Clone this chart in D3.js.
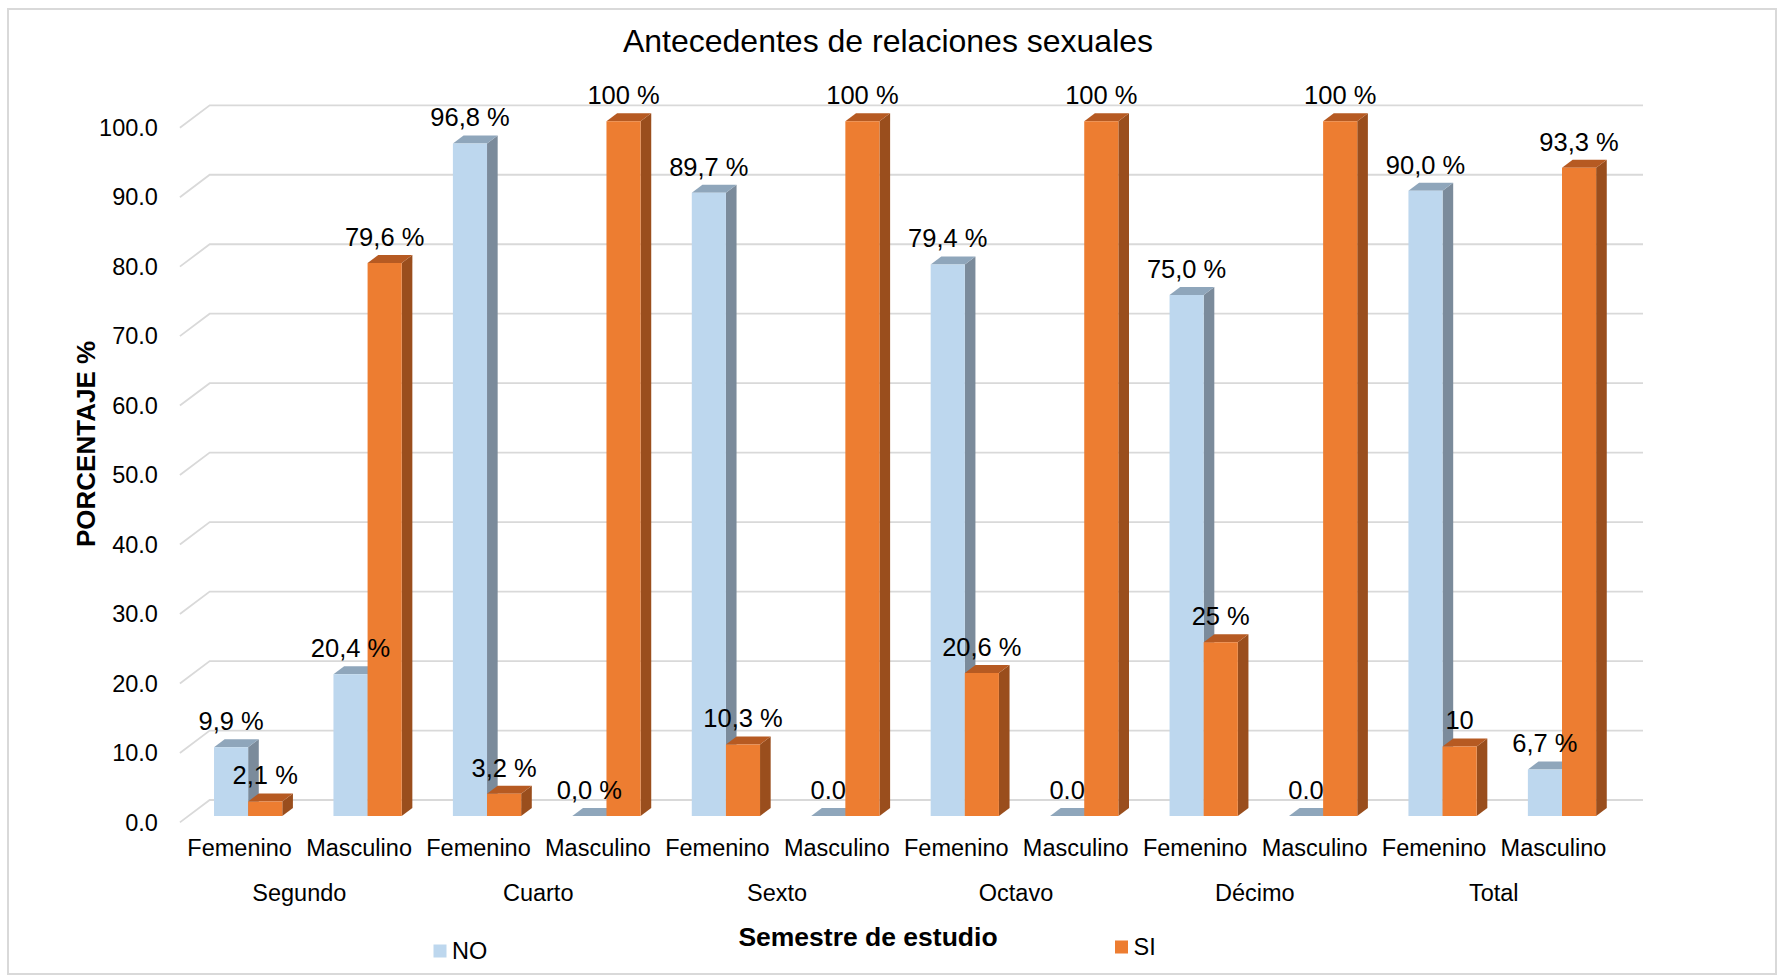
<!DOCTYPE html>
<html>
<head>
<meta charset="utf-8">
<script src="https://cdn.jsdelivr.net/npm/d3@7"></script>
<style>
  html, body { margin: 0; padding: 0; background: #ffffff; }
  svg { display: block; }
  text { font-family: "Liberation Sans", Arial, sans-serif; fill: #000; }
</style>
</head>
<body>
<div id="chart"></div>
<script>
// ---------------- data ----------------
const chartTitle = "Antecedentes de relaciones sexuales";
const yAxisTitle = "PORCENTAJE %";
const xAxisTitle = "Semestre de estudio";
const semestres = ["Segundo", "Cuarto", "Sexto", "Octavo", "Décimo", "Total"];
const sexos = ["Femenino", "Masculino"];
const seriesNames = ["NO", "SI"];
const valuesNO = [9.9, 20.4, 96.8, 0, 89.7, 0, 79.4, 0, 75.0, 0, 90.0, 6.7];
const valuesSI = [2.1, 79.6, 3.2, 100, 10.3, 100, 20.6, 100, 25, 100, 10, 93.3];
const labelsNO = ["9,9 %", "20,4 %", "96,8 %", "0,0 %", "89,7 %", "0.0", "79,4 %", "0.0", "75,0 %", "0.0", "90,0 %", "6,7 %"];
const labelsSI = ["2,1 %", "79,6 %", "3,2 %", "100 %", "10,3 %", "100 %", "20,6 %", "100 %", "25 %", "100 %", "10", "93,3 %"];
const yTicks = [0, 10, 20, 30, 40, 50, 60, 70, 80, 90, 100];

// ---------------- layout ----------------
const W = 1784, H = 978;
const FONT = 23.5;
const LABEL_FONT = 25.5;
const colors = {
  NO: { front: "#BDD7EE", top: "#8FA6BB", side: "#7B8B9B" },
  SI: { front: "#ED7D31", top: "#B65A22", side: "#9A4E1D" }
};
const DX = -29.8, DY = 22.4;       // full floor depth vector (towards viewer)
const fFront = 0.714, fBack = 0.357; // bar depth position

const svg = d3.select("#chart").append("svg").attr("width", W).attr("height", H);

// border
svg.append("rect").attr("x", 8).attr("y", 9).attr("width", 1768).attr("height", 965)
  .attr("fill", "#fff").attr("stroke", "#D9D9D9").attr("stroke-width", 2);

// categories (12 = 6 semesters x 2 sexes)
const cats = [];
semestres.forEach((s, gi) => sexos.forEach((sx, si) => cats.push({ sem: s, sexo: sx, gi, idx: gi * 2 + si })));

const x = d3.scaleBand().domain(d3.range(cats.length)).range([209.7, 1643]).paddingInner(0).paddingOuter(0);
const xs = d3.scaleBand().domain(seriesNames).range([0, x.bandwidth()]).paddingInner(0).paddingOuter(0.75);
const y = d3.scaleLinear().domain([0, 100]).range([800, 105.3]);

const proj = (xb, v, f) => [xb + f * DX, y(v) + f * DY];

// gridlines (back wall + left wall)
const gGrid = svg.append("g");
const line = d3.line();
yTicks.forEach(t => {
  gGrid.append("path")
    .attr("d", line([proj(x.range()[0], t, 1), proj(x.range()[0], t, 0), proj(x.range()[1], t, 0)]))
    .attr("fill", "none").attr("stroke", "#D9D9D9").attr("stroke-width", 1.8);
});

// y tick labels
const gY = svg.append("g");
yTicks.forEach(t => {
  const p = proj(x.range()[0], t, 1);
  gY.append("text").attr("x", p[0] - 22).attr("y", p[1]).attr("dy", "0.35em")
    .attr("text-anchor", "end").attr("font-size", FONT).text(d3.format(".1f")(t));
});

// bars
const data = [];
cats.forEach((c, i) => {
  seriesNames.forEach(s => {
    data.push({
      i, s,
      v: s === "NO" ? valuesNO[i] : valuesSI[i],
      label: s === "NO" ? labelsNO[i] : labelsSI[i]
    });
  });
});

const gBars = svg.append("g");
data.forEach(d => {
  const x0 = x(d.i) + xs(d.s), x1 = x0 + xs.bandwidth();
  const c = colors[d.s];
  const g = gBars.append("g");
  g.append("path").attr("fill", c.side)
    .attr("d", line([proj(x1, 0, fFront), proj(x1, 0, fBack), proj(x1, d.v, fBack), proj(x1, d.v, fFront)]) + "Z");
  g.append("path").attr("fill", c.top)
    .attr("d", line([proj(x0, d.v, fFront), proj(x1, d.v, fFront), proj(x1, d.v, fBack), proj(x0, d.v, fBack)]) + "Z");
  g.append("path").attr("fill", c.front)
    .attr("d", line([proj(x0, 0, fFront), proj(x1, 0, fFront), proj(x1, d.v, fFront), proj(x0, d.v, fFront)]) + "Z");
});

// data labels
const gLab = svg.append("g");
data.forEach(d => {
  const x0 = x(d.i) + xs(d.s);
  const p = proj(x0 + xs.bandwidth() / 2, d.v, fFront);
  gLab.append("text").attr("x", p[0]).attr("y", p[1] - 26).attr("dy", "0.35em")
    .attr("text-anchor", "middle").attr("font-size", LABEL_FONT).text(d.label);
});

// x category labels
const gX = svg.append("g");
cats.forEach((c, i) => {
  const p = proj(x(i) + x.bandwidth() / 2, 0, 1);
  gX.append("text").attr("x", p[0]).attr("y", 848).attr("dy", "0.35em")
    .attr("text-anchor", "middle").attr("font-size", FONT).text(c.sexo);
});
semestres.forEach((s, gi) => {
  const a = proj(x(gi * 2) + x.bandwidth() / 2, 0, 1)[0];
  const b = proj(x(gi * 2 + 1) + x.bandwidth() / 2, 0, 1)[0];
  gX.append("text").attr("x", (a + b) / 2).attr("y", 892.7).attr("dy", "0.35em")
    .attr("text-anchor", "middle").attr("font-size", FONT).text(s);
});

// titles
svg.append("text").attr("x", 888).attr("y", 41).attr("dy", "0.35em")
  .attr("text-anchor", "middle").attr("font-size", 32).text(chartTitle);
svg.append("text").attr("x", 868).attr("y", 937).attr("dy", "0.35em")
  .attr("text-anchor", "middle").attr("font-size", 26.5).attr("font-weight", "bold").text(xAxisTitle);
svg.append("text").attr("transform", "translate(86,444) rotate(-90)").attr("dy", "0.35em")
  .attr("text-anchor", "middle").attr("font-size", 26).attr("font-weight", "bold").text(yAxisTitle);

// legend
const legendPos = [{ x: 433.5, y: 951 }, { x: 1115, y: 947 }];
seriesNames.forEach((s, k) => {
  const lp = legendPos[k];
  svg.append("rect").attr("x", lp.x).attr("y", lp.y - 6.5).attr("width", 13).attr("height", 13)
    .attr("fill", colors[s].front);
  svg.append("text").attr("x", lp.x + 18.5).attr("y", lp.y).attr("dy", "0.35em")
    .attr("font-size", FONT).text(s);
});
</script>
</body>
</html>
